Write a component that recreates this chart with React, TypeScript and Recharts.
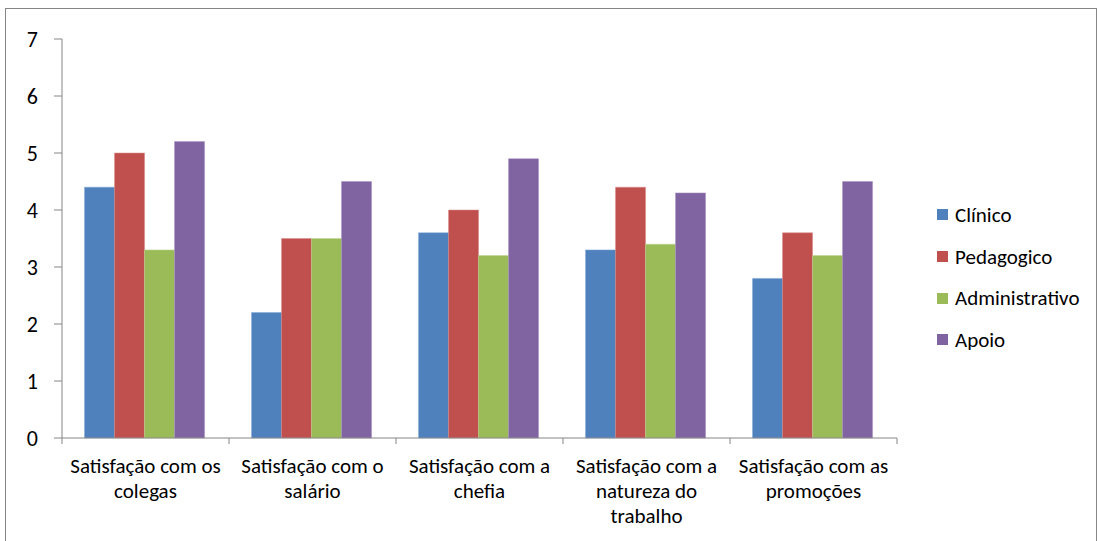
import React from 'react';
import { BarChart, Bar, XAxis, YAxis } from 'recharts';

const categories = [
  'Satisfação com os\ncolegas',
  'Satisfação com o\nsalário',
  'Satisfação com a\nchefia',
  'Satisfação com a\nnatureza do\ntrabalho',
  'Satisfação com as\npromoções',
];
const seriesNames = ['Clínico', 'Pedagogico', 'Administrativo', 'Apoio'];
const seriesColors = ['#4F81BD', '#C0504D', '#9BBB59', '#8064A2'];
const seriesEdges = ['#7fa6d6', '#d88a88', '#bcd38e', '#a792c0'];
const clinico = [4.4, 2.2, 3.6, 3.3, 2.8];
const pedagogico = [5.0, 3.5, 4.0, 4.4, 3.6];
const administrativo = [3.3, 3.5, 3.2, 3.4, 3.2];
const apoio = [5.2, 4.5, 4.9, 4.3, 4.5];
const yTicks = [0, 1, 2, 3, 4, 5, 6, 7];

const data = categories.map((c, i) => ({
  name: c,
  'Clínico': clinico[i],
  Pedagogico: pedagogico[i],
  Administrativo: administrativo[i],
  Apoio: apoio[i],
}));

const FONT = 'Carlito, Calibri, "Open Sans", "Liberation Sans", sans-serif';
const AXIS = '#868686';

const XTick = (props: any) => {
  const { x, y, payload, index, visibleTicksCount } = props;
  const band = 167;
  const lines = String(payload.value).split('\n');
  return (
    <g>
      <line x1={x - band / 2} y1={y - 8} x2={x - band / 2} y2={y - 2} stroke={AXIS} strokeWidth={1} />
      {index === visibleTicksCount - 1 && (
        <line x1={x + band / 2} y1={y - 8} x2={x + band / 2} y2={y - 2} stroke={AXIS} strokeWidth={1} />
      )}
      <text x={x} y={y + 27} textAnchor="middle" fontSize={21} fill="#000" fontFamily={FONT}>
        {lines.map((l, i) => (
          <tspan key={i} x={x} dy={i === 0 ? 0 : 25}>{l}</tspan>
        ))}
      </text>
    </g>
  );
};

export default function App() {
  return (
    <div style={{ position: 'absolute', left: 0, top: 0, width: 1100, height: 541, background: '#fff', overflow: 'hidden' }}>
      <div style={{ position: 'absolute', left: 5, top: 8, width: 1092, height: 560, border: '1.5px solid #868686', boxSizing: 'border-box' }} />
      <BarChart
        width={1100}
        height={541}
        data={data}
        margin={{ top: 39, right: 203, bottom: 0, left: 0 }}
        barCategoryGap="13.5%"
        barGap={0}
        style={{ fontFamily: FONT }}
      >
        <XAxis
          dataKey="name"
          interval={0}
          tickLine={false}
          stroke={AXIS}
          height={103}
          tick={<XTick />}
        />
        <YAxis
          domain={[0, 7]}
          ticks={yTicks}
          width={62}
          stroke={AXIS}
          tickSize={8}
          tickMargin={16}
          tick={{ fill: '#000', fontSize: 22, fontFamily: FONT }}
          interval={0}
        />
        {seriesNames.map((s, i) => (
          <Bar key={s} dataKey={s} fill={seriesColors[i]} stroke={seriesEdges[i]} strokeWidth={0.5} isAnimationActive={false} />
        ))}
      </BarChart>
      <div style={{ position: 'absolute', left: 937, top: 194, fontFamily: FONT, fontSize: 21, color: '#000' }}>
        {seriesNames.map((s, i) => (
          <div key={s} style={{ display: 'flex', alignItems: 'center', height: 41.7 }}>
            <span style={{ display: 'inline-block', width: 11, height: 11, background: seriesColors[i], marginRight: 7 }} />
            <span>{s}</span>
          </div>
        ))}
      </div>
    </div>
  );
}
